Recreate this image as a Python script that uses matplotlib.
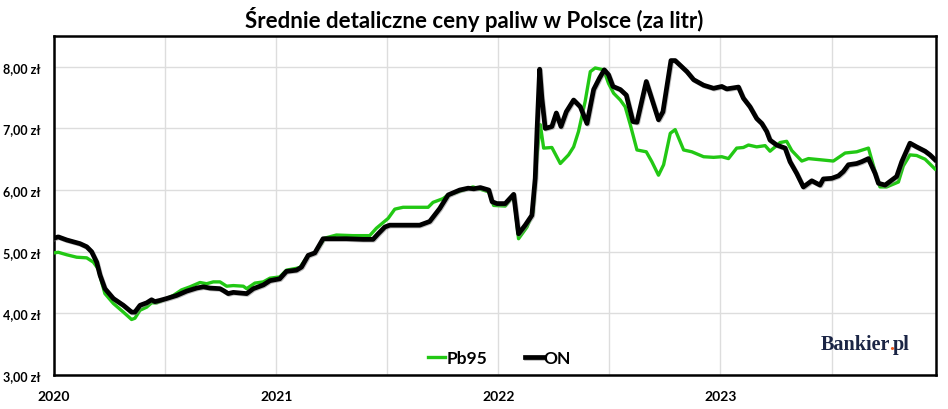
import numpy as np
import matplotlib.pyplot as plt
import matplotlib.patheffects as pe

# dates as decimal years, prices in zł per litre
on_x = [2020.000, 2020.019, 2020.057, 2020.117, 2020.147, 2020.169, 2020.192, 2020.207,
        2020.229, 2020.267, 2020.312, 2020.349, 2020.364, 2020.387, 2020.417, 2020.439,
        2020.454, 2020.477, 2020.507, 2020.552, 2020.597, 2020.642, 2020.672, 2020.702,
        2020.747, 2020.762, 2020.784, 2020.807, 2020.837, 2020.867, 2020.897, 2020.942,
        2020.972, 2021.016, 2021.046, 2021.091, 2021.114, 2021.144, 2021.174, 2021.211,
        2021.256, 2021.316, 2021.391, 2021.436, 2021.459, 2021.489, 2021.511, 2021.556,
        2021.646, 2021.691, 2021.736, 2021.774, 2021.826, 2021.864, 2021.889, 2021.919,
        2021.957, 2021.972, 2021.994, 2022.031, 2022.046, 2022.069, 2022.091, 2022.121,
        2022.151, 2022.166, 2022.174, 2022.186, 2022.196, 2022.211, 2022.241, 2022.261,
        2022.282, 2022.306, 2022.339, 2022.369, 2022.399, 2022.429, 2022.456, 2022.477,
        2022.496, 2022.516, 2022.549, 2022.576, 2022.606, 2022.624, 2022.666, 2022.721,
        2022.741, 2022.777, 2022.796, 2022.849, 2022.879, 2022.924, 2022.969, 2023.006,
        2023.028, 2023.081, 2023.103, 2023.133, 2023.163, 2023.186, 2023.208, 2023.223,
        2023.253, 2023.291, 2023.313, 2023.343, 2023.373, 2023.411, 2023.448, 2023.463,
        2023.501, 2023.531, 2023.553, 2023.576, 2023.613, 2023.636, 2023.666, 2023.696,
        2023.711, 2023.741, 2023.771, 2023.793, 2023.816, 2023.853, 2023.883, 2023.921,
        2023.943, 2023.966]
on_y = [5.22, 5.24, 5.19, 5.13, 5.08, 5.00, 4.83, 4.62,
        4.40, 4.24, 4.13, 4.02, 4.02, 4.13, 4.17, 4.22,
        4.19, 4.21, 4.24, 4.29, 4.36, 4.41, 4.43, 4.41,
        4.40, 4.37, 4.32, 4.34, 4.33, 4.32, 4.40, 4.46,
        4.53, 4.56, 4.68, 4.70, 4.75, 4.94, 4.98, 5.21,
        5.21, 5.21, 5.20, 5.20, 5.29, 5.40, 5.43, 5.43,
        5.43, 5.49, 5.70, 5.92, 6.00, 6.03, 6.02, 6.04,
        6.00, 5.81, 5.78, 5.78, 5.84, 5.93, 5.29, 5.43,
        5.59, 6.19, 6.95, 7.96, 7.49, 7.00, 7.03, 7.25,
        7.03, 7.27, 7.46, 7.35, 7.08, 7.63, 7.82, 7.95,
        7.87, 7.68, 7.63, 7.54, 7.11, 7.10, 7.76, 7.14,
        7.27, 8.10, 8.10, 7.92, 7.79, 7.70, 7.65, 7.68,
        7.64, 7.67, 7.49, 7.35, 7.16, 7.08, 6.95, 6.81,
        6.73, 6.68, 6.46, 6.27, 6.05, 6.15, 6.08, 6.18,
        6.19, 6.23, 6.30, 6.41, 6.43, 6.46, 6.51, 6.27,
        6.11, 6.08, 6.16, 6.22, 6.46, 6.76, 6.70, 6.63,
        6.57, 6.49]

pb_x = [2020.000, 2020.019, 2020.057, 2020.102, 2020.147, 2020.177, 2020.199, 2020.214,
        2020.229, 2020.267, 2020.312, 2020.349, 2020.364, 2020.387, 2020.417, 2020.439,
        2020.462, 2020.507, 2020.537, 2020.574, 2020.612, 2020.657, 2020.687, 2020.717,
        2020.747, 2020.777, 2020.807, 2020.852, 2020.867, 2020.904, 2020.942, 2020.972,
        2021.016, 2021.046, 2021.106, 2021.144, 2021.174, 2021.219, 2021.271, 2021.346,
        2021.421, 2021.451, 2021.504, 2021.534, 2021.571, 2021.684, 2021.706, 2021.751,
        2021.774, 2021.826, 2021.886, 2021.957, 2021.979, 2022.031, 2022.046, 2022.069,
        2022.091, 2022.129, 2022.156, 2022.174, 2022.189, 2022.204, 2022.241, 2022.279,
        2022.316, 2022.339, 2022.361, 2022.391, 2022.414, 2022.436, 2022.474, 2022.496,
        2022.519, 2022.549, 2022.571, 2022.594, 2022.624, 2022.666, 2022.691, 2022.721,
        2022.744, 2022.774, 2022.796, 2022.834, 2022.871, 2022.924, 2022.969, 2023.006,
        2023.036, 2023.073, 2023.103, 2023.126, 2023.163, 2023.201, 2023.223, 2023.246,
        2023.268, 2023.298, 2023.321, 2023.366, 2023.396, 2023.508, 2023.561, 2023.613,
        2023.666, 2023.696, 2023.718, 2023.748, 2023.801, 2023.823, 2023.853, 2023.883,
        2023.921, 2023.966]
pb_y = [4.98, 4.99, 4.95, 4.91, 4.90, 4.83, 4.72, 4.51,
        4.32, 4.16, 4.02, 3.90, 3.92, 4.05, 4.10, 4.17,
        4.17, 4.24, 4.29, 4.38, 4.43, 4.50, 4.48, 4.51,
        4.51, 4.44, 4.45, 4.44, 4.40, 4.49, 4.51, 4.57,
        4.59, 4.70, 4.74, 4.94, 4.98, 5.22, 5.27, 5.26,
        5.26, 5.38, 5.54, 5.69, 5.72, 5.72, 5.80, 5.86,
        5.92, 5.98, 6.05, 5.97, 5.75, 5.74, 5.81, 5.92,
        5.21, 5.40, 5.64, 6.57, 7.06, 6.68, 6.69, 6.43,
        6.57, 6.70, 6.95, 7.44, 7.92, 7.98, 7.95, 7.73,
        7.57, 7.46, 7.35, 7.06, 6.65, 6.62, 6.46, 6.24,
        6.41, 6.92, 6.98, 6.65, 6.62, 6.54, 6.53, 6.54,
        6.51, 6.68, 6.69, 6.73, 6.70, 6.72, 6.63, 6.70,
        6.77, 6.79, 6.64, 6.47, 6.51, 6.47, 6.60, 6.62,
        6.68, 6.30, 6.05, 6.05, 6.13, 6.39, 6.57, 6.56,
        6.50, 6.34]

years = [2020, 2021, 2022, 2023]
yticks = [3, 4, 5, 6, 7, 8]

plt.rcParams['font.family'] = ['Lato', 'DejaVu Sans']

fig = plt.figure(figsize=(9.48, 4.10), dpi=100)
ax = fig.add_axes([0.057, 0.083, 0.9303, 0.827])

ax.plot(pb_x, pb_y, color='#22c814', lw=2.4, label='Pb95', zorder=3)
ax.plot(on_x, on_y, color='black', lw=3.4, label='ON', zorder=4,
        path_effects=[pe.SimpleLineShadow(offset=(0.6, -0.6), shadow_color='gray', alpha=0.5),
                      pe.Normal()])

ax.set_xlim(2020, 2023.97)
ax.set_ylim(3, 8.5)
ax.set_yticks(yticks)
ax.set_yticklabels([f'{v:.2f}'.replace('.', ',') + ' zł' for v in yticks],
                   fontsize=9, fontweight='bold')
ax.set_xticks(years)
ax.set_xticklabels([str(y) for y in years], fontsize=10, fontweight='bold')
ax.set_xticks([y + 0.5 for y in years], minor=True)
ax.tick_params(axis='both', which='both', length=0)
ax.tick_params(axis='y', pad=10)
ax.tick_params(axis='x', pad=11)

ax.grid(True, axis='y', color='#dddddd', lw=1)
ax.grid(True, axis='x', which='both', color='#dddddd', lw=1)
ax.set_axisbelow(True)
for s in ax.spines.values():
    s.set_linewidth(1.8)
    s.set_color('black')

leg = ax.legend(loc='lower center', bbox_to_anchor=(0.505, -0.02), ncol=2, frameon=False,
                handlelength=1.0, handletextpad=0.05, columnspacing=2.2,
                prop={'size': 12.5, 'weight': 'bold'})

fig.text(0.5, 0.952, 'Średnie detaliczne ceny paliw w Polsce (za litr)',
         ha='center', va='center', fontsize=16, fontweight='bold')

# Bankier.pl mark
logo_kw = dict(fontsize=14.5, fontweight='bold', family='Liberation Serif', va='center',
               transform=ax.transAxes)
t1 = ax.text(0.869, 0.09, 'Bankier', color='#1b2545', ha='left', **logo_kw)
fig.canvas.draw()
bb = t1.get_window_extent().transformed(ax.transAxes.inverted())
t2 = ax.text(bb.x1 - 0.001, 0.09, '.', color='#f05a1e', ha='left', **logo_kw)
fig.canvas.draw()
bb2 = t2.get_window_extent().transformed(ax.transAxes.inverted())
ax.text(bb2.x1 - 0.001, 0.09, 'pl', color='#1b2545', ha='left', **logo_kw)

fig.savefig('out.png', dpi=100)
